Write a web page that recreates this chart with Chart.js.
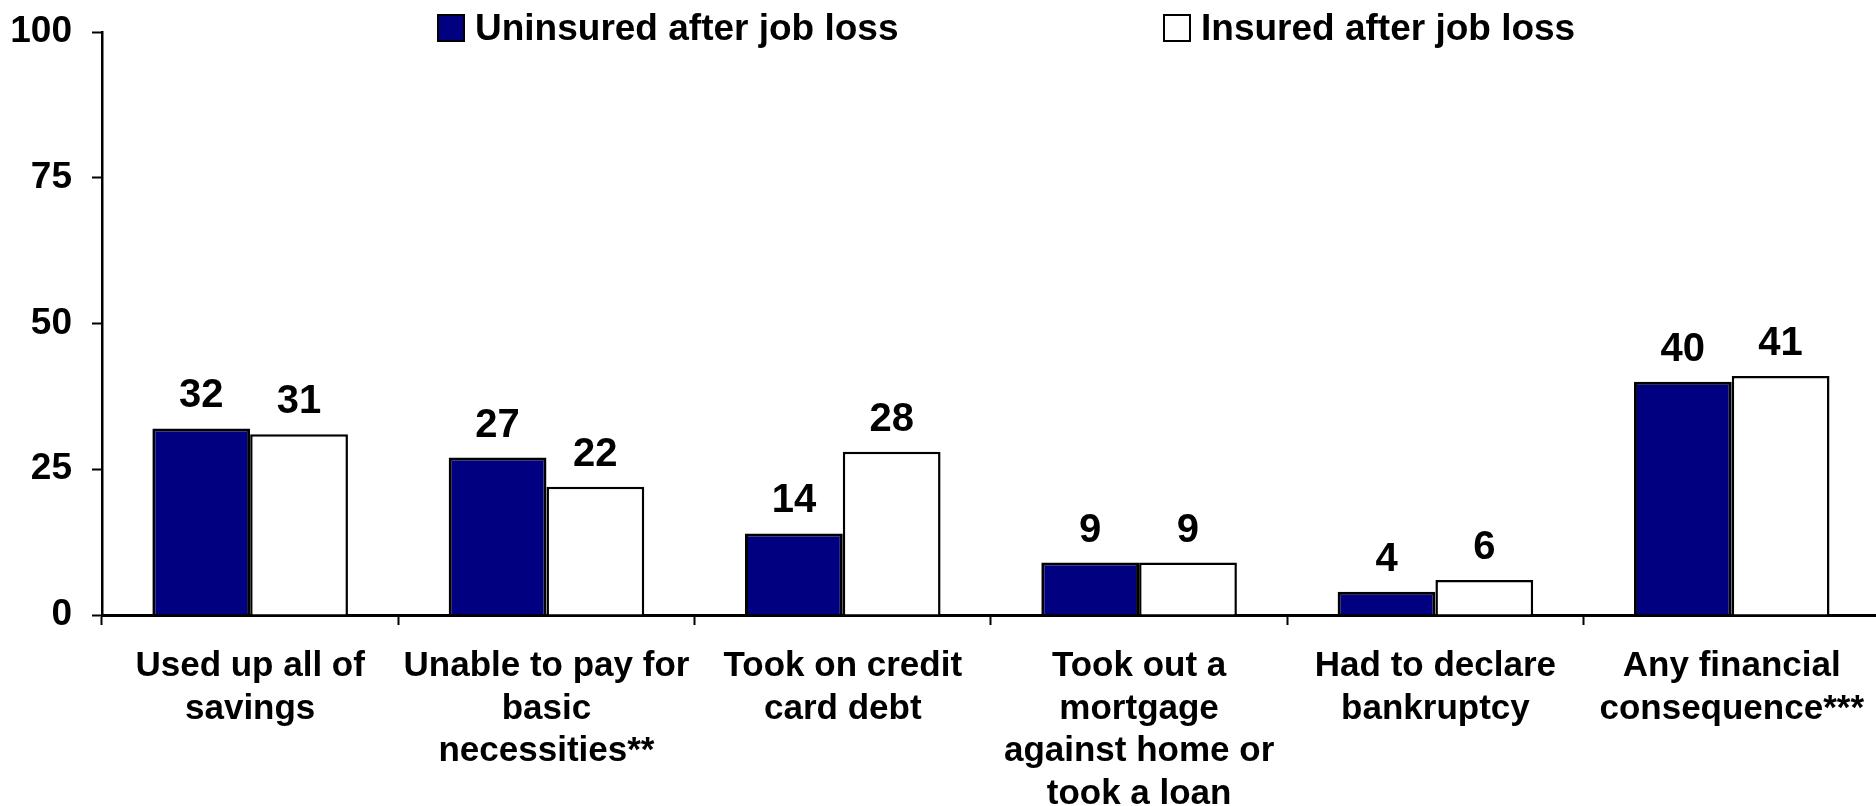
<!DOCTYPE html>
<html>
<head>
<meta charset="utf-8">
<script src="https://cdn.jsdelivr.net/npm/chart.js@4.4.1/dist/chart.umd.min.js"></script>
<style>
  html, body { margin: 0; padding: 0; background: #fff; overflow: hidden; }
  #wrap { position: relative; width: 1876px; height: 806px; overflow: hidden; }
  #chart { position: absolute; left: 0; top: 0; }
  .legend { position: absolute; top: 7px; display: flex; align-items: center;
            font: bold 37px "Liberation Sans", Arial, sans-serif; color: #000; }
  .legend .box { width: 24px; height: 24px; border: 2px solid #000; margin-right: 10px; }
</style>
</head>
<body>
<div id="wrap">
  <canvas id="chart" width="1884" height="806"></canvas>
  <div class="legend" style="left:437px"><span class="box" style="background:#000080"></span>Uninsured after job loss</div>
  <div class="legend" style="left:1163px"><span class="box" style="background:#fff"></span>Insured after job loss</div>
</div>
<script>
const categories = [
    ["Used up all of", "savings"],
    ["Unable to pay for", "basic", "necessities**"],
    ["Took on credit", "card debt"],
    ["Took out a", "mortgage", "against home or", "took a loan"],
    ["Had to declare", "bankruptcy"],
    ["Any financial", "consequence***"]
];
const uninsured = [32, 27, 14, 9, 4, 40];
const insured = [31, 22, 28, 9, 6, 41];
const yTicks = [0, 25, 50, 75, 100];

const font = "'Liberation Sans', Arial, sans-serif";

// value labels above every bar
const valueLabels = {
    id: 'valueLabels',
    afterDatasetsDraw(chart) {
        const ctx = chart.ctx;
        ctx.save();
        ctx.font = 'bold 40px ' + font;
        ctx.fillStyle = '#000';
        ctx.textAlign = 'center';
        ctx.textBaseline = 'alphabetic';
        chart.data.datasets.forEach((ds, i) => {
            chart.getDatasetMeta(i).data.forEach((bar, j) => {
                ctx.fillText(String(ds.data[j]), bar.x, bar.y - 21);
            });
        });
        ctx.restore();
    }
};

new Chart(document.getElementById('chart'), {
    type: 'bar',
    data: {
        labels: categories,
        datasets: [
            {
                label: 'Uninsured after job loss',
                data: uninsured,
                backgroundColor: '#000080',
                borderColor: '#000',
                borderWidth: 3,
                categoryPercentage: 0.66,
                barPercentage: 1.0
            },
            {
                label: 'Insured after job loss',
                data: insured,
                backgroundColor: '#fff',
                borderColor: '#000',
                borderWidth: 2.5,
                categoryPercentage: 0.66,
                barPercentage: 1.0
            }
        ]
    },
    options: {
        responsive: false,
        animation: false,
        layout: { padding: { top: 32, left: 0, right: 0, bottom: 0 } },
        plugins: {
            legend: { display: false },
            tooltip: { enabled: false }
        },
        scales: {
            x: {
                grid: {
                    offset: true,
                    drawOnChartArea: false,
                    drawTicks: true,
                    tickLength: 10,
                    tickColor: '#000',
                    tickWidth: 2
                },
                border: { color: '#000', width: 3 },
                ticks: {
                    color: '#000',
                    padding: 20,
                    maxRotation: 0,
                    autoSkip: false,
                    font: { family: font, size: 35, weight: 'bold', lineHeight: 1.22 }
                },
                afterFit(scale) { scale.height = 191; }
            },
            y: {
                min: 0,
                max: 100,
                afterBuildTicks(scale) { scale.ticks = yTicks.map(v => ({ value: v })); },
                grid: {
                    drawOnChartArea: false,
                    drawTicks: true,
                    tickLength: 10,
                    tickColor: '#000',
                    tickWidth: 2
                },
                border: { color: '#000', width: 2.5 },
                ticks: {
                    color: '#000',
                    padding: 20,
                    font: { family: font, size: 37, weight: 'bold' }
                },
                afterFit(scale) {
                    scale.width = 102;
                    scale.paddingTop = 0;
                    scale.paddingBottom = 0;
                }
            }
        }
    },
    plugins: [valueLabels]
});
</script>
</body>
</html>
